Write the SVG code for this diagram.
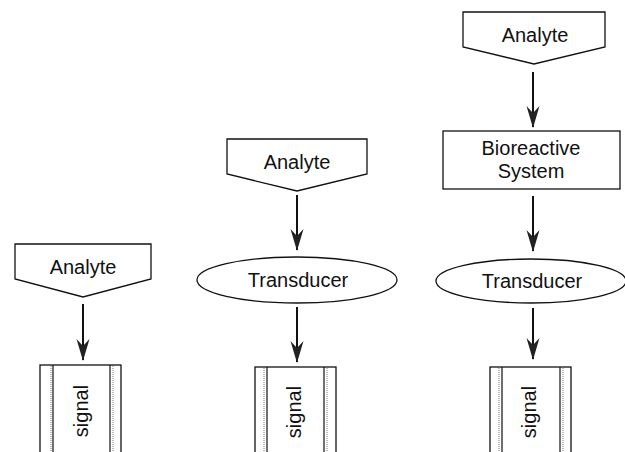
<svg xmlns="http://www.w3.org/2000/svg" width="625" height="452" viewBox="0 0 625 452">
<style>
.s{fill:#fff;stroke:#111;stroke-width:1.3}
.t{font-family:"Liberation Sans",Arial,sans-serif;font-size:20px;fill:#111;text-anchor:middle}
.c{stroke:#111;stroke-width:2;fill:none;marker-end:url(#ah)}
.in{stroke:#111;stroke-width:1.2}
.dt{stroke:#777;stroke-width:1;stroke-dasharray:1 1}
</style>
<defs>
<marker id="ah" markerUnits="userSpaceOnUse" markerWidth="22" markerHeight="14" refX="21" refY="7" orient="auto" viewBox="0 0 22 14">
<path d="M22,7 L0,0.5 L7,7 L0,13.5 Z" fill="#222"/>
</marker>
</defs>
<rect width="625" height="452" fill="#fff"/>
<g id="connectors">
<line class="c" x1="83" y1="304" x2="83" y2="360"/>
<line class="c" x1="297" y1="195" x2="297" y2="250"/>
<line class="c" x1="297" y1="307" x2="297" y2="362"/>
<line class="c" x1="533" y1="72" x2="533" y2="127"/>
<line class="c" x1="533" y1="196" x2="533" y2="251"/>
<line class="c" x1="533" y1="308" x2="533" y2="359"/>
</g>
<g id="analyte1">
<path class="s" d="M15,244 H151 V279 L83,297 L15,279 Z"/>
<text class="t" x="83" y="274">Analyte</text>
</g>
<g id="signal1">
<rect class="s" x="40" y="365" width="81" height="95"/>
<line class="in" x1="53" y1="365" x2="53" y2="452"/>
<line class="in" x1="110" y1="365" x2="110" y2="452"/>
<line class="dt" x1="51" y1="366" x2="51" y2="452"/>
<line class="dt" x1="113" y1="366" x2="113" y2="452"/>
<text class="t" transform="translate(88 411) rotate(-90)">signal</text>
</g>
<g id="analyte2">
<path class="s" d="M227,139 H367 V174 L297,191 L227,174 Z"/>
<text class="t" x="297" y="169">Analyte</text>
</g>
<g id="transducer2">
<ellipse class="s" cx="297" cy="280" rx="100" ry="23"/>
<text class="t" x="298" y="287">Transducer</text>
</g>
<g id="signal2">
<rect class="s" x="255" y="367" width="81" height="95"/>
<line class="in" x1="267" y1="367" x2="267" y2="452"/>
<line class="in" x1="324" y1="367" x2="324" y2="452"/>
<line class="dt" x1="264" y1="368" x2="264" y2="452"/>
<line class="dt" x1="327" y1="368" x2="327" y2="452"/>
<text class="t" transform="translate(301 412) rotate(-90)">signal</text>
</g>
<g id="analyte3">
<path class="s" d="M463,12 H605 V47 L534,64 L463,47 Z"/>
<text class="t" x="535" y="42">Analyte</text>
</g>
<g id="bioreactive">
<rect class="s" x="443" y="131" width="177" height="58"/>
<text class="t" x="531" y="155">Bioreactive</text>
<text class="t" x="531" y="178">System</text>
</g>
<g id="transducer3">
<ellipse class="s" cx="531" cy="281" rx="95" ry="22"/>
<text class="t" x="532" y="288">Transducer</text>
</g>
<g id="signal3">
<rect class="s" x="490" y="367" width="81" height="95"/>
<line class="in" x1="502" y1="367" x2="502" y2="452"/>
<line class="in" x1="560" y1="367" x2="560" y2="452"/>
<line class="dt" x1="499" y1="368" x2="499" y2="452"/>
<line class="dt" x1="563" y1="368" x2="563" y2="452"/>
<text class="t" transform="translate(536 412) rotate(-90)">signal</text>
</g>
</svg>
